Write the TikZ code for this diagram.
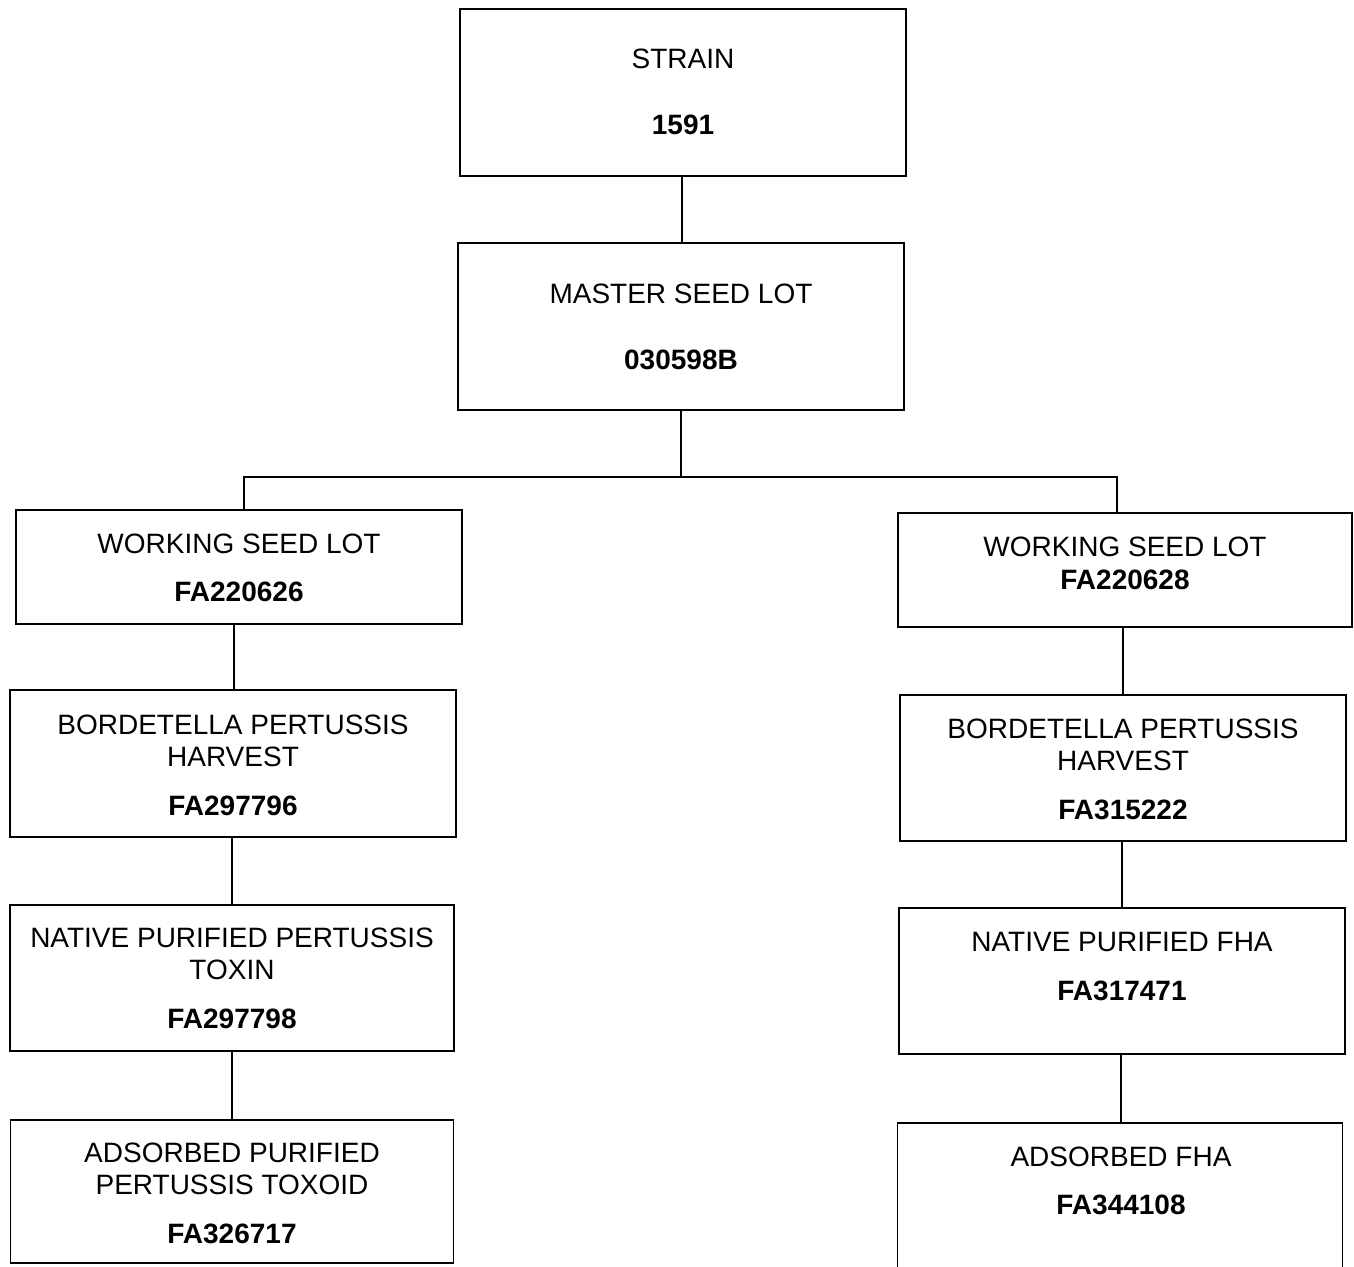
\documentclass[tikz,border=0pt]{standalone}
\usepackage{fontspec}
\setmainfont{Liberation Sans}
\begin{document}
\begin{tikzpicture}[x=1pt,y=-1pt,
  box/.style={draw=black, line width=1.8pt, rectangle, inner sep=0pt, fill=white},
  lbl/.style={anchor=base, inner sep=0pt, font=\fontsize{28}{32}\selectfont},
  num/.style={anchor=base, inner sep=0pt, font=\fontsize{28}{32}\selectfont\bfseries},
  conn/.style={draw=black, line width=1.4pt},
  barline/.style={draw=black, line width=2.4pt}]
\useasboundingbox (0,0) rectangle (1354,1266);
\clip (0,0) rectangle (1354,1266);
\fill[white] (0,0) rectangle (1354,1266);

% boxes
\node[box, minimum width=446pt, minimum height=167pt] (strain) at (683,92.5) {};
\node[box, minimum width=446pt, minimum height=167pt] (master) at (681,326.5) {};
\node[box, minimum width=446pt, minimum height=114pt] (wslL) at (239,567) {};
\node[box, minimum width=454pt, minimum height=114pt] (wslR) at (1125,570) {};
\node[box, minimum width=446pt, minimum height=147pt] (bpL) at (233,763.5) {};
\node[box, minimum width=446pt, minimum height=146pt] (bpR) at (1123,768) {};
\node[box, minimum width=444pt, minimum height=146pt] (npL) at (232,978) {};
\node[box, minimum width=446pt, minimum height=146pt] (npR) at (1122,981) {};
\node[box, minimum width=443pt, minimum height=143pt] (adL) at (232,1191.5) {};
\node[box, minimum width=445pt, minimum height=177pt] (adR) at (1120,1211.5) {};

% texts
\node[lbl] (t1) at (683,68) {STRAIN};
\node[num] (t2) at (683,134) {1591};
\node[lbl] (t3) at (681,303) {MASTER SEED LOT};
\node[num] (t4) at (681,369) {030598B};
\node[lbl] (t5) at (239,553) {WORKING SEED LOT};
\node[num] (t6) at (239,601) {FA220626};
\node[lbl] (t7) at (1125,556) {WORKING SEED LOT};
\node[num] (t8) at (1125,589) {FA220628};
\node[lbl] (t9) at (233,734) {BORDETELLA PERTUSSIS};
\node[lbl] (t10) at (233,766) {HARVEST};
\node[num] (t11) at (233,815) {FA297796};
\node[lbl] (t12) at (1123,738) {BORDETELLA PERTUSSIS};
\node[lbl] (t13) at (1123,770) {HARVEST};
\node[num] (t14) at (1123,819) {FA315222};
\node[lbl] (t15) at (232,947) {NATIVE PURIFIED PERTUSSIS};
\node[lbl] (t16) at (232,979) {TOXIN};
\node[num] (t17) at (232,1028) {FA297798};
\node[lbl] (t18) at (1122,951) {NATIVE PURIFIED FHA};
\node[num] (t19) at (1122,1000) {FA317471};
\node[lbl] (t20) at (232,1162) {ADSORBED PURIFIED};
\node[lbl] (t21) at (232,1194) {PERTUSSIS TOXOID};
\node[num] (t22) at (232,1243) {FA326717};
\node[lbl] (t23) at (1121,1166) {ADSORBED FHA};
\node[num] (t24) at (1121,1214) {FA344108};

% connectors
\coordinate (barL) at (244,477);
\coordinate (barR) at (1117,477);
\draw[conn] ([xshift=-1pt]strain.south) -- ([xshift=-1pt]strain.south |- master.north);
\draw[conn] (master.south) -- (master.south |- barL);
\draw[barline] ([xshift=-1pt]barL) -- ([xshift=1pt]barR);
\draw[conn] (barL) -- (barL |- wslL.north);
\draw[conn] (barR) -- (barR |- wslR.north);
\draw[conn] ([xshift=1pt]wslL.south -| bpL) -- ([xshift=1pt]bpL.north);
\draw[conn] (wslR.south -| bpR) -- (bpR.north);
\draw[conn] (bpL.south -| npL) -- (npL.north);
\draw[conn] (bpR.south -| npR) -- (npR.north);
\draw[conn] (npL.south -| adL) -- (adL.north);
\draw[conn] ([xshift=1pt]npR.south -| adR) -- ([xshift=1pt]adR.north);
\end{tikzpicture}
\end{document}
